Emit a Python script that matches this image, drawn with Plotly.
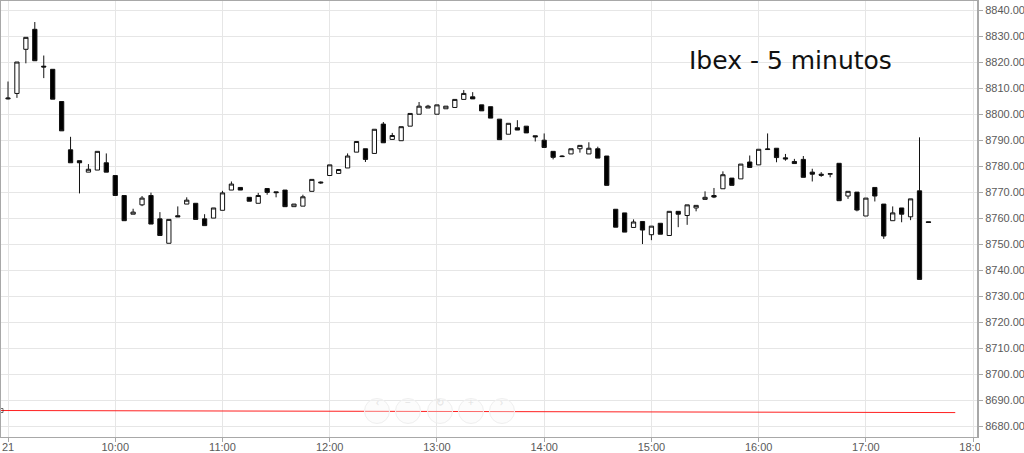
import plotly.graph_objects as go
import pandas as pd

# ---- data ----
session_day = "2016-03-21"
times = pd.date_range(f"{session_day} 09:00", periods=104, freq="5min")

opens = [8806.0, 8808.1, 8825.1, 8832.8, 8818.6, 8817.4, 8805.0, 8786.4, 8782.2, 8777.8,
         8778.6, 8781.4, 8776.5, 8768.8, 8761.6, 8765.2, 8768.8, 8759.8, 8750.4, 8761.0,
         8765.5, 8765.8, 8759.8, 8760.1, 8763.1, 8770.9, 8771.9, 8768.1, 8765.8, 8771.5,
         8770.2, 8770.9, 8764.5, 8764.7, 8770.4, 8773.6, 8776.5, 8777.3, 8779.4, 8785.5,
         8786.8, 8785.0, 8796.3, 8790.4, 8789.9, 8795.5, 8800.1, 8802.5, 8800.1, 8802.2,
         8802.7, 8805.8, 8806.8, 8803.7, 8803.0, 8798.2, 8792.4, 8794.9, 8795.5, 8791.8,
         8790.1, 8785.8, 8784.0, 8784.8, 8786.8, 8784.8, 8786.8, 8784.0, 8763.5, 8762.1,
         8756.5, 8758.8, 8753.7, 8758.1, 8753.4, 8762.7, 8761.1, 8764.0, 8767.3, 8768.8,
         8771.4, 8775.5, 8775.2, 8781.7, 8780.6, 8786.5, 8787.0, 8783.3, 8781.9, 8782.7,
         8777.8, 8777.0, 8777.0, 8781.2, 8768.6, 8770.1, 8760.9, 8771.9, 8765.5, 8759.1,
         8764.0, 8760.6, 8770.6, 8758.7]
highs = [8812.7, 8820.2, 8829.7, 8835.6, 8822.7, 8817.4, 8805.0, 8791.4, 8782.2, 8780.9,
         8785.8, 8785.0, 8776.5, 8768.8, 8763.7, 8768.6, 8769.9, 8762.4, 8759.6, 8764.6,
         8768.1, 8765.8, 8761.6, 8764.0, 8770.6, 8774.2, 8771.9, 8768.1, 8769.8, 8771.5,
         8770.2, 8770.9, 8765.5, 8769.1, 8775.0, 8774.2, 8780.6, 8778.8, 8785.0, 8789.6,
         8786.8, 8794.3, 8797.1, 8792.9, 8795.3, 8800.4, 8804.8, 8803.7, 8803.7, 8803.2,
         8805.8, 8809.4, 8808.6, 8803.7, 8803.0, 8798.2, 8796.6, 8797.8, 8795.5, 8791.8,
         8792.7, 8785.8, 8784.3, 8786.8, 8788.1, 8789.3, 8787.6, 8784.0, 8763.5, 8762.1,
         8759.6, 8758.8, 8757.0, 8758.1, 8762.7, 8762.7, 8765.2, 8765.0, 8770.4, 8771.7,
         8778.1, 8775.5, 8780.9, 8784.2, 8786.6, 8792.7, 8787.0, 8784.8, 8782.9, 8784.0,
         8779.1, 8777.8, 8777.3, 8781.2, 8770.4, 8770.1, 8767.8, 8771.9, 8765.5, 8764.6,
         8764.0, 8767.5, 8791.2, 8758.7]
lows = [8805.8, 8806.4, 8819.7, 8820.7, 8814.0, 8805.9, 8793.7, 8781.4, 8769.6, 8777.8,
        8778.6, 8777.8, 8768.8, 8759.1, 8761.6, 8764.7, 8757.8, 8753.4, 8750.4, 8760.6,
        8765.5, 8759.6, 8757.2, 8760.1, 8763.1, 8770.9, 8770.9, 8766.6, 8765.8, 8769.1,
        8768.1, 8764.5, 8764.5, 8764.7, 8770.4, 8773.3, 8776.5, 8777.3, 8779.4, 8785.5,
        8781.7, 8785.0, 8789.1, 8790.4, 8789.9, 8795.5, 8800.1, 8802.5, 8800.1, 8802.2,
        8802.7, 8805.8, 8806.0, 8801.4, 8798.6, 8790.3, 8792.4, 8794.0, 8792.9, 8789.6,
        8787.3, 8782.7, 8783.6, 8784.8, 8785.3, 8784.8, 8783.2, 8772.7, 8756.6, 8754.7,
        8756.5, 8750.1, 8751.6, 8753.9, 8753.4, 8756.6, 8757.5, 8762.7, 8767.3, 8767.8,
        8771.4, 8772.7, 8775.2, 8779.6, 8780.6, 8786.5, 8781.6, 8782.2, 8781.1, 8775.8,
        8774.2, 8776.0, 8775.8, 8766.8, 8767.5, 8762.7, 8760.9, 8766.5, 8752.1, 8759.1,
        8758.5, 8759.3, 8736.5, 8758.4]
closes = [8806.3, 8820.2, 8829.7, 8820.7, 8818.3, 8805.9, 8793.7, 8781.4, 8781.4, 8778.9,
          8785.8, 8777.8, 8768.8, 8759.1, 8762.4, 8767.8, 8757.8, 8753.4, 8759.6, 8760.6,
          8767.0, 8759.6, 8757.2, 8764.0, 8769.8, 8773.2, 8770.9, 8766.6, 8768.8, 8770.0,
          8769.9, 8764.5, 8765.5, 8768.3, 8775.0, 8773.9, 8780.6, 8778.8, 8784.0, 8789.6,
          8782.7, 8794.3, 8789.1, 8791.9, 8795.3, 8800.4, 8803.2, 8803.2, 8803.7, 8803.2,
          8805.8, 8808.1, 8806.0, 8801.4, 8798.6, 8790.3, 8796.6, 8794.0, 8792.9, 8791.4,
          8787.3, 8783.5, 8783.8, 8786.8, 8788.1, 8787.0, 8783.2, 8772.7, 8756.6, 8754.7,
          8758.6, 8755.5, 8757.0, 8753.9, 8762.7, 8761.6, 8765.2, 8765.0, 8768.1, 8768.2,
          8776.8, 8772.7, 8780.9, 8779.6, 8786.6, 8786.7, 8783.4, 8782.9, 8781.1, 8775.8,
          8777.0, 8776.6, 8777.2, 8766.8, 8770.4, 8763.2, 8767.8, 8768.6, 8753.2, 8762.1,
          8761.6, 8767.5, 8736.5, 8758.4]

# red reference line (start, end)
ref_times = [f"{session_day} 08:56:05", f"{session_day} 17:50:00"]
ref_values = [8686.0, 8685.2]

tick_times = [f"{session_day} {h:02d}:00" for h in range(9, 19)]
tick_labels = ["21", "10:00", "11:00", "12:00", "13:00", "14:00", "15:00", "16:00", "17:00", "18:00"]
y_ticks = list(range(8680, 8841, 10))
y_labels = [f"{v:.2f}" for v in y_ticks]

title_text = "Ibex - 5 minutos"
nav_symbols = ["‹", "−", "↻", "+", "›"]

# ---- figure ----
fig = go.Figure()
fig.add_trace(go.Candlestick(
    x=times, open=opens, high=highs, low=lows, close=closes,
    increasing=dict(line=dict(color="#111111", width=1), fillcolor="#ffffff"),
    decreasing=dict(line=dict(color="#111111", width=1), fillcolor="#000000"),
    whiskerwidth=0, hoverinfo="skip", showlegend=False,
))
fig.add_trace(go.Scatter(
    x=ref_times, y=ref_values, mode="lines+markers",
    line=dict(color="#ff2020", width=1),
    marker=dict(size=[4, 0], symbol="square-open", color="#333333", line=dict(width=1)),
    cliponaxis=False, hoverinfo="skip", showlegend=False,
))

L, R, T, B = 1, 47, 1, 16
W, H = 1024, 453
pw, ph = W - L - R, H - T - B

def px_x(px):
    return (px - L) / pw

def px_y(py):
    return (H - B - py) / ph

axis_font = dict(family="Liberation Sans, Arial, sans-serif", size=11, color="#5a5a5a")

fig.update_layout(
    template="none",
    width=W, height=H,
    margin=dict(l=L, r=R, t=T, b=B, pad=0, autoexpand=False),
    paper_bgcolor="#ffffff", plot_bgcolor="#ffffff",
    showlegend=False,
    boxgap=0.32,
    xaxis=dict(
        type="date", automargin=False,
        range=[f"{session_day} 08:56:05", f"{session_day} 18:02:10"],
        rangeslider=dict(visible=False),
        tickvals=tick_times, ticktext=tick_labels,
        showgrid=True, gridcolor="#e6e6e6", gridwidth=1,
        showline=True, linecolor="#a8a8a8", linewidth=1, mirror=True,
        ticks="outside", ticklen=4, tickcolor="#a8a8a8",
        ticklabelstandoff=-4,
        tickfont=axis_font, zeroline=False,
    ),
    yaxis=dict(
        side="right", automargin=False,
        range=[8675.8, 8843.7],
        tickvals=y_ticks, ticktext=y_labels,
        showgrid=True, gridcolor="#e6e6e6", gridwidth=1,
        showline=True, linecolor="#a8a8a8", linewidth=2, mirror=True,
        ticks="outside", ticklen=4, tickcolor="#a8a8a8",
        tickfont=axis_font, zeroline=False,
    ),
)

fig.add_annotation(
    text=title_text, xref="paper", yref="paper",
    x=px_x(790.5), y=px_y(60), xanchor="center", yanchor="middle",
    showarrow=False, font=dict(family="DejaVu Sans, Verdana, sans-serif", size=25, color="#111111"),
)

# faint navigation buttons
nav_x = [377, 408, 440, 471, 502]
for cx, sym in zip(nav_x, nav_symbols):
    fig.add_shape(type="circle", xref="paper", yref="paper",
                  xsizemode="pixel", ysizemode="pixel",
                  xanchor=px_x(cx), yanchor=px_y(411),
                  x0=-12.5, x1=12.5, y0=-12.5, y1=12.5,
                  line=dict(color="#efefef", width=1), fillcolor="rgba(246,246,246,0.35)",
                  layer="above")
    fig.add_annotation(text=sym, xref="paper", yref="paper", x=px_x(cx), y=px_y(411),
                       showarrow=False, font=dict(size=10, color="#e2e2e2"))

# the last x label is clipped at the right in the reference
fig.add_shape(type="rect", xref="paper", yref="paper",
              x0=px_x(980), x1=px_x(1024), y0=px_y(453), y1=px_y(439),
              line=dict(width=0), fillcolor="#ffffff", layer="above")

fig.write_html("out.html", config={"displayModeBar": False})
